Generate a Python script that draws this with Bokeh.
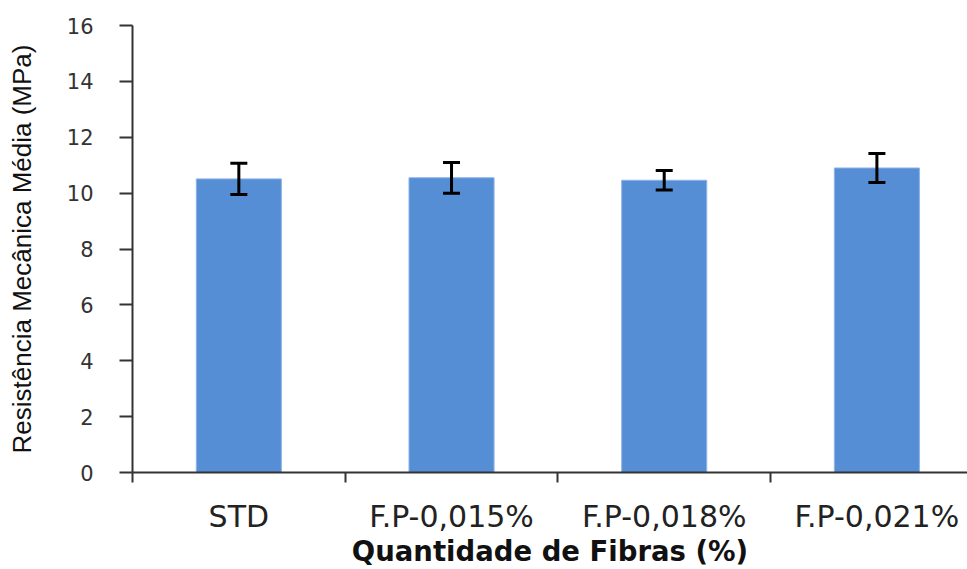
from bokeh.plotting import figure
from bokeh.models import Range1d, FixedTicker, ColumnDataSource, Whisker, TeeHead
from bokeh.embed import file_html
from bokeh.resources import INLINE

categories = ["STD", "F.P-0,015%", "F.P-0,018%", "F.P-0,021%"]
means = [10.51, 10.55, 10.46, 10.90]
errors = [0.56, 0.55, 0.35, 0.52]
y_ticks = [0, 2, 4, 6, 8, 10, 12, 14, 16]

xs = [i + 0.5 for i in range(len(categories))]
src = ColumnDataSource(dict(
    x=xs, top=means,
    upper=[m + e for m, e in zip(means, errors)],
    lower=[m - e for m, e in zip(means, errors)],
))

p = figure(width=967, height=569, output_backend="svg", toolbar_location=None,
           x_range=Range1d(0, 3.926), y_range=Range1d(0, 16),
           min_border_left=132, min_border_right=0, min_border_top=25, min_border_bottom=96)
p.outline_line_color = None
p.grid.grid_line_color = None
p.background_fill_color = "white"
p.border_fill_color = "white"

p.vbar(x="x", top="top", width=0.4, bottom=0, source=src,
       fill_color="#558ED5", line_color="#8DB3E8", line_width=1)

w = Whisker(source=src, base="x", upper="upper", lower="lower",
            line_color="black", line_width=3, level="overlay",
            upper_head=TeeHead(size=17, line_color="black", line_width=3),
            lower_head=TeeHead(size=17, line_color="black", line_width=3))
p.add_layout(w)

# x axis: labels at category centres, tick marks at category boundaries
xa = p.xaxis[0]
xa.ticker = FixedTicker(ticks=xs, minor_ticks=list(range(len(categories) + 1)))
xa.major_label_overrides = {x: c for x, c in zip(xs, categories)}
xa.major_tick_out = 0
xa.major_tick_in = 0
xa.minor_tick_out = 10
xa.minor_tick_in = 0
xa.minor_tick_line_width = 2
xa.minor_tick_line_color = "#333333"
xa.axis_line_color = "#333333"
xa.axis_line_width = 2
xa.major_label_text_font = "DejaVu Sans"
xa.major_label_text_font_size = "30px"
xa.major_label_text_color = "#222222"
xa.major_label_standoff = 16
xa.axis_label = "Quantidade de Fibras (%)"
xa.axis_label_text_font = "DejaVu Sans"
xa.axis_label_text_font_size = "27.5px"
xa.axis_label_text_font_style = "bold"
xa.axis_label_text_color = "#111111"
xa.axis_label_standoff = -2

ya = p.yaxis[0]
ya.ticker = FixedTicker(ticks=y_ticks, minor_ticks=[])
ya.major_tick_out = 13
ya.major_tick_in = 0
ya.major_tick_line_width = 2
ya.major_tick_line_color = "#333333"
ya.axis_line_color = "#333333"
ya.axis_line_width = 2
ya.major_label_text_font = "DejaVu Sans"
ya.major_label_text_font_size = "21px"
ya.major_label_text_color = "#333333"
ya.major_label_standoff = 26
ya.axis_label = "Resistência Mecânica Média (MPa)"
ya.axis_label_text_font = "Liberation Sans"
ya.axis_label_text_font_size = "26px"
ya.axis_label_text_font_style = "normal"
ya.axis_label_text_color = "#111111"
ya.axis_label_standoff = 27

open("out.html", "w").write(file_html(p, INLINE))
